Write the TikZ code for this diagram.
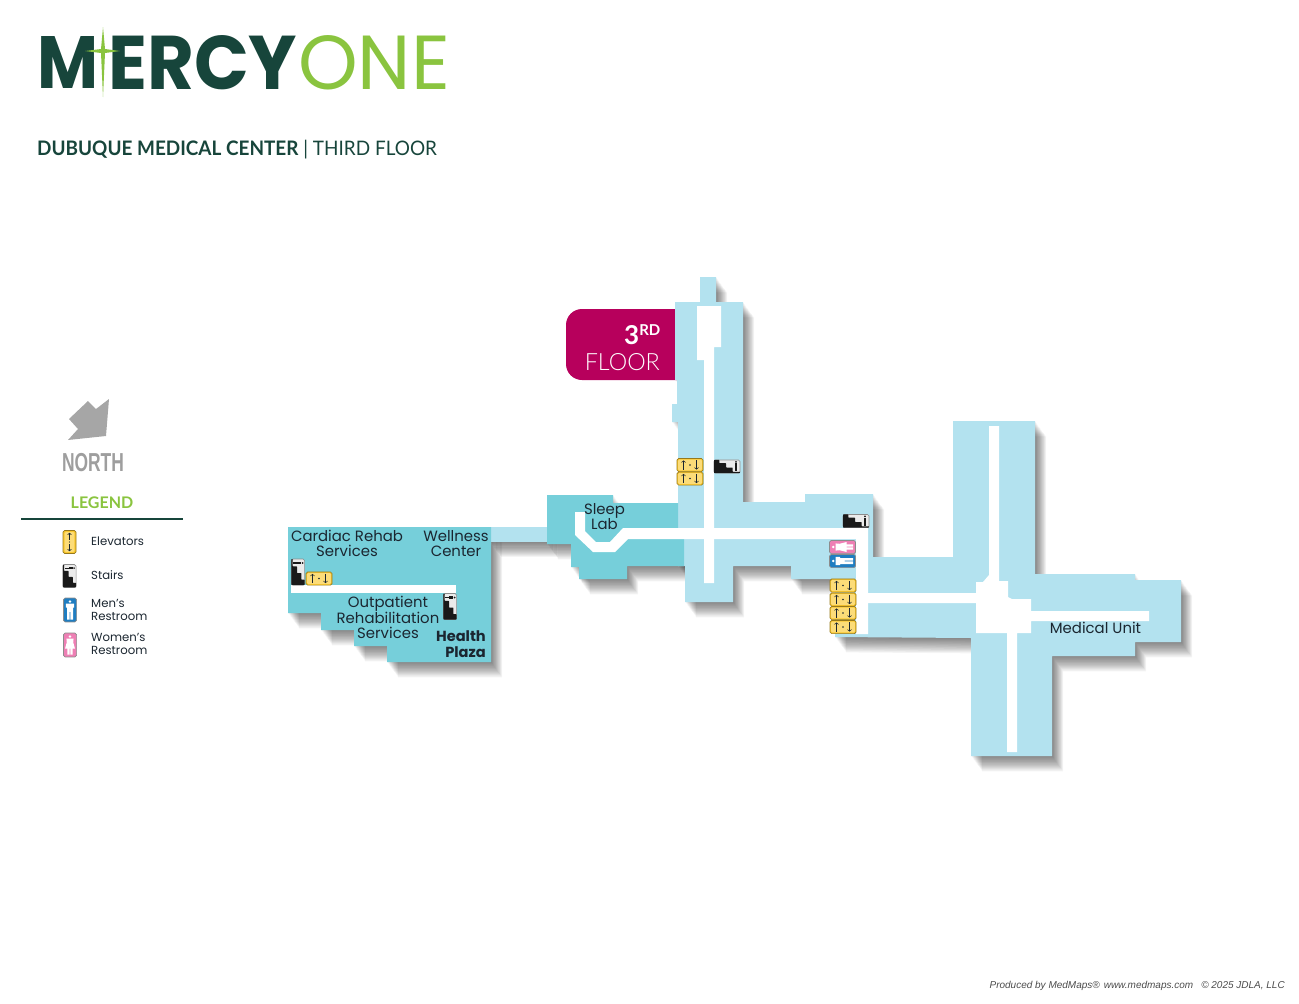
\documentclass[tikz,border=0pt]{standalone}
\usepackage{fontspec}
\usepackage{graphicx}
\setmainfont{Poppins}
\newfontfamily\latofont{Lato}
\newfontfamily\thinfont{Lato Light}
\newfontfamily\creditfont{Liberation Sans}
\newfontfamily\northfont{Liberation Sans}
\definecolor{wing}{HTML}{B3E2EF}
\definecolor{teal}{HTML}{76CFDA}
\definecolor{darkgreen}{HTML}{17453B}
\definecolor{lightgreen}{HTML}{8AC43F}
\definecolor{banner}{HTML}{B7005C}
\definecolor{elev}{HTML}{FBC92F}
\definecolor{men}{HTML}{1F7DC1}
\definecolor{women}{HTML}{EE7FB4}
\definecolor{labelink}{HTML}{1B2630}
\tikzset{
  room/.style={inner sep=0pt, text=labelink, align=center, font=\fontsize{14.9}{15}\selectfont},
  legendtext/.style={anchor=west, inner sep=0pt, align=left, text=labelink, font=\fontsize{11.7}{13}\selectfont},
  iconframe/.style={rounded corners=1.6pt, draw=black!45, line width=.7pt},
  elevbox/.pic={
    \draw [iconframe, draw=elev!60!black, fill=elev] (-13,-6.6) rectangle (13,6.6);
    \fill [elev!65!white, rounded corners=1pt] (-11.8,-5.4) rectangle (11.8,5.4);
    \draw [->, line width=.6pt, labelink] (-6.5,4.6) -- (-6.5,-4.6);
    \draw [->, line width=.6pt, labelink] (6.5,-4.6) -- (6.5,4.6);
    \fill [labelink] (0,0) circle (.9);
  },
  elevtall/.pic={
    \draw [iconframe, draw=elev!60!black, fill=elev] (-6.5,-11.5) rectangle (6.5,11.5);
    \fill [elev!65!white, rounded corners=1pt] (-4.8,-9.8) rectangle (4.8,9.8);
    \draw [->, line width=.6pt, labelink] (0,-2) -- (0,-9.2);
    \draw [->, line width=.6pt, labelink] (0,2) -- (0,9.2);
    \fill [labelink] (0,0) circle (.7);
  },
  stairbox/.pic={
    \draw [iconframe, fill=black!8] (-13,-6.6) rectangle (13,6.6);
    \fill [rounded corners=.5pt, black!90] (-13,-6.6) -- (-7.7,-6.6) -- (-7.7,-3.3) -- (-1,-3.3) -- (-1,1)
      -- (5.7,1) -- (5.7,5.4) -- (13,5.4) -- (13,6.6) -- (-13,6.6) -- cycle;
    \fill [black!90] (9,-4.6) circle (1);
    \fill [black!90] (7.9,-3.2) rectangle (10.1,.8);
    \fill [black!90] (8.4,.5) rectangle (9.6,4.6);
  },
  menbox/.pic={
    \draw [iconframe, fill=men] (-13,-6.6) rectangle (13,6.6);
    \fill [white] (-9.2,0) circle (1.4);
    \fill [white] (-7,-4.2) -- (-2.5,-4.2) -- (-2.5,-3) -- (10.5,-3) -- (10.5,-.4) -- (2,-.4) -- (2,.4)
      -- (10.5,.4) -- (10.5,3) -- (-2.5,3) -- (-2.5,4.2) -- (-7,4.2) -- cycle;
  },
  womenbox/.pic={
    \draw [iconframe, fill=women] (-13,-6.6) rectangle (13,6.6);
    \fill [white] (-9.2,0) circle (1.4);
    \fill [white] (-7,-3.6) -- (-3,-3.2) -- (4,-5) -- (4,-2.6) -- (10.5,-2.6) -- (10.5,-.4) -- (4,-.4) -- (4,.4)
      -- (10.5,.4) -- (10.5,2.6) -- (4,2.6) -- (4,5) -- (-3,3.2) -- (-7,3.6) -- cycle;
  }
}
\begin{document}
\begin{tikzpicture}[x=1pt, y=-1pt]
  \useasboundingbox (0,0) rectangle (1299,1004);

  \def\mainplan{(700,277) -- (716,277) -- (716,302) -- (743,302) -- (743,502) -- (805,502) -- (805,494)
    -- (873,494) -- (873,557) -- (953,557) -- (953,421) -- (1035,421) -- (1035,574) -- (1135,574)
    -- (1135,580) -- (1181,580) -- (1181,642) -- (1135,642) -- (1135,656) -- (1052,656) -- (1052,756)
    -- (971,756) -- (971,638) -- (835,637) -- (835,579) -- (791,579) -- (791,566) -- (733,566)
    -- (733,602) -- (685,602) -- (685,566) -- (678,566) -- (678,422) -- (672,422) -- (672,404)
    -- (677,404) -- (677,380) -- (675,380) -- (675,302) -- (700,302) -- cycle}
  \def\sleepplan{(547,495) -- (613,495) -- (613,503) -- (678,503) -- (678,528) -- (684,528) -- (684,566)
    -- (627,566) -- (627,579) -- (579,579) -- (579,567) -- (571,567) -- (571,544) -- (547,544) -- cycle}
  \def\rehabplan{(288,527) -- (491,527) -- (491,662) -- (387,662) -- (387,646) -- (354,646) -- (354,630)
    -- (321,630) -- (321,613) -- (288,613) -- cycle}
  \def\bridgeplan{(490,527) -- (547,527) -- (547,542) -- (490,542) -- cycle}

  % soft shadow, one offset copy per step
  \foreach \d in {1,...,14} {
    \fill [black, opacity=.045, shift={(\d*.8,\d*1.1)}] \mainplan;
    \fill [black, opacity=.045, shift={(\d*.8,\d*1.1)}] \sleepplan;
    \fill [black, opacity=.045, shift={(\d*.8,\d*1.1)}] \rehabplan;
    \fill [black, opacity=.045, shift={(\d*.8,\d*1.1)}] \bridgeplan;
  }

  % banner goes under the north wing
  \fill [banner, rounded corners=16pt] (566,309) rectangle (705,380);

  \fill [wing] \mainplan;
  \fill [wing] \bridgeplan;
  \fill [teal] \sleepplan;
  \fill [teal] \rehabplan;

  % corridors
  \fill [white] (697,306) -- (721,306) -- (721,347) -- (714,347) -- (714,583) -- (704,583) -- (704,360) -- (697,360) -- cycle;
  \fill [white] (575,512) -- (585,512) -- (585,531) -- (596,542) -- (610,542) -- (623,528) -- (868,528)
    -- (868,634) -- (856,634) -- (856,539) -- (628,539) -- (615,552) -- (593,552) -- (575,535) -- cycle;
  \fill [white] (868,593) -- (976,593) -- (976,582) -- (983,582) -- (989,575) -- (989,426) -- (999,426)
    -- (999,581) -- (1008,581) -- (1008,597) -- (1012,599) -- (1031,599) -- (1031,611) -- (1149,611)
    -- (1149,621) -- (1031,621) -- (1031,633) -- (1017,633) -- (1017,752) -- (1007,752) -- (1007,633)
    -- (976,633) -- (976,603) -- (868,603) -- cycle;
  \fill [white] (291,585) rectangle (456,593);

  % icons on the plan
  \pic at (690,465) {elevbox};
  \pic at (690,478.5) {elevbox};
  \pic at (843,585.5) {elevbox};
  \pic at (843,599.5) {elevbox};
  \pic at (843,613) {elevbox};
  \pic at (843,627) {elevbox};
  \pic at (319,578.5) {elevbox};
  \pic at (727,466.5) {stairbox};
  \pic at (856,521) {stairbox};
  \pic [rotate=90, yscale=-1] at (298,572) {stairbox};
  \pic [rotate=90, yscale=-1] at (450,606.5) {stairbox};
  \pic at (842.5,547) {womenbox};
  \pic at (842.5,561) {menbox};

  % room names
  \node [room] (cardiac) at (347,543.5) {Cardiac Rehab\\Services};
  \node [room] (wellness) at (456,543.5) {Wellness\\Center};
  \node [room] (sleep) at (604.5,517) {Sleep\\Lab};
  \node [room] (outpatient) at (388,617) {Outpatient\\Rehabilitation\\Services};
  \node [room, anchor=east, align=right, font=\bfseries\fontsize{14.6}{16}\selectfont] (plaza) at (486,644) {Health\\Plaza};
  \node [room] (medical) at (1095.5,628) {Medical Unit};

  % floor tag
  \node [inner sep=0pt, anchor=base east, text=white, font=\latofont\bfseries\fontsize{26}{26}\selectfont] (third) at (660.5,344)
    {3\raisebox{9pt}{\fontsize{15}{15}\selectfont RD}};
  \node [inner sep=0pt, anchor=base east, text=white, font=\thinfont\fontsize{24}{24}\selectfont] (floor) at (660,370.5)
    {\resizebox{75pt}{17pt}{FLOOR}};

  % logo
  \node [inner sep=0pt, anchor=base west, text=darkgreen, font=\bfseries\fontsize{75}{75}\selectfont] (logoM) at (37,88)
    {\resizebox{61pt}{52pt}{M}};
  \node [inner sep=0pt, anchor=base west, text=darkgreen, font=\bfseries\fontsize{75}{75}\selectfont] (logoMercy) at (108,89)
    {\resizebox{189pt}{54pt}{ERCY}};
  \node [inner sep=0pt, anchor=base west, text=lightgreen, font=\fontsize{75}{75}\selectfont] (logoOne) at (298,89)
    {\resizebox{152pt}{54pt}{ONE}};
  \fill [lightgreen] (103,27) -- (105,49) -- (120,51) -- (105,53) -- (103,97) -- (101,53) -- (85,51) -- (101,49) -- cycle;

  \node [inner sep=0pt, anchor=base west, text=darkgreen, font=\latofont\fontsize{20}{20}\selectfont] (title) at (37,155.5)
    {\scalebox{.947}[1]{\textbf{DUBUQUE MEDICAL CENTER} | THIRD FLOOR}};

  % north arrow and legend
  \fill [black!35] (109,399) -- (106,436) -- (68,440) -- (78,429) -- (69,419) -- (88,401) -- (96,409) -- cycle;
  \node [inner sep=0pt, text=black!38, font=\northfont\bfseries\fontsize{26}{26}\selectfont] (north) at (93,463)
    {\scalebox{.67}[1]{NORTH}};
  \node [inner sep=0pt, text=lightgreen, font=\latofont\bfseries\fontsize{16}{16}\selectfont] (legend) at (102,502.5) {LEGEND};
  \coordinate (ruleleft) at (21,519);
  \coordinate (ruleright) at (183,519);
  \draw [darkgreen, line width=1.1pt] (ruleleft) -- (ruleright);

  \pic at (69.5,542) {elevtall};
  \pic [rotate=90, yscale=-1, xscale=.88] at (69.5,576) {stairbox};
  \pic [rotate=-90, xscale=.92] at (70,610) {menbox};
  \pic [rotate=-90, xscale=.92] at (70,645) {womenbox};
  \node [legendtext] (elevators) at (91,541.5) {Elevators};
  \node [legendtext] (stairs) at (91,575.5) {Stairs};
  \node [legendtext] (mens) at (91,610) {Men's\\Restroom};
  \node [legendtext] (womens) at (91,644) {Women's\\Restroom};

  \node [inner sep=0pt, anchor=base east, text=black!70, font=\creditfont\itshape\fontsize{10}{10}\selectfont] (credit) at (1285,988.5)
    {Produced by MedMaps\textregistered\hspace{4pt}www.medmaps.com\hspace{8pt}\textcopyright\ 2025 JDLA, LLC};
\end{tikzpicture}
\end{document}
